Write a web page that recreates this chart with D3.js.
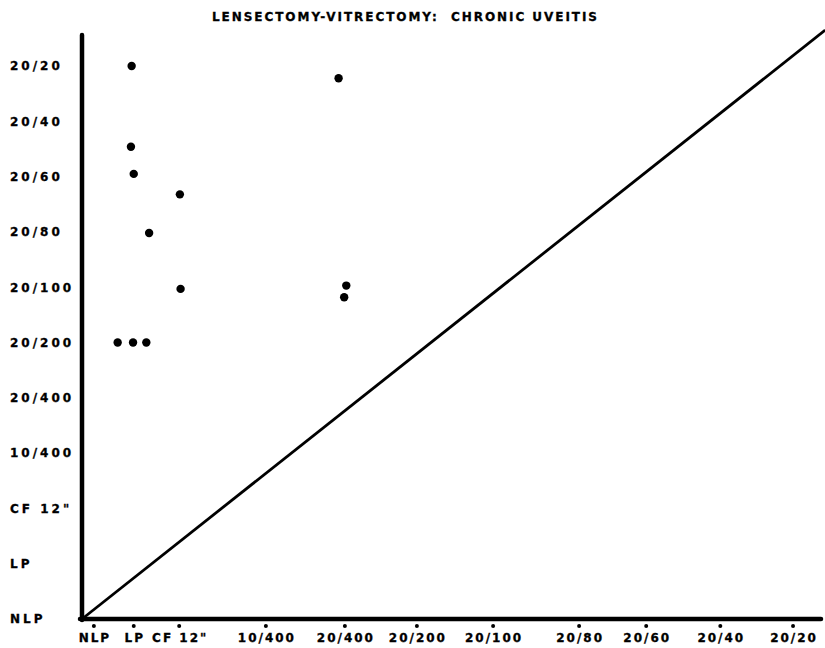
<!DOCTYPE html>
<html>
<head>
<meta charset="utf-8">
<script src="https://cdn.jsdelivr.net/npm/d3@7"></script>
<style>
  html, body { margin: 0; padding: 0; background: #fff; }
  svg { display: block; }
  text { font-family: "DejaVu Sans", Verdana, sans-serif; font-weight: bold; fill: #000; stroke: #000; stroke-width: 0.3; }
</style>
</head>
<body>
<script>
// ---- data ----
const title = "LENSECTOMY-VITRECTOMY:  CHRONIC UVEITIS";
const acuityLabels = ["NLP", "LP", "CF 12\"", "10/400", "20/400", "20/200", "20/100", "20/80", "20/60", "20/40", "20/20"];
// pre-operative (x) acuity scale positions (uneven spacing)
const xTickValues = [0, 0.57, 1.22, 2.46, 3.59, 4.62, 5.71, 6.94, 7.90, 8.96, 10];
// post-operative (y) acuity scale positions (even)
const yTickValues = [0, 1, 2, 3, 4, 5, 6, 7, 8, 9, 10];
// eyes: pre-op acuity (x), post-op acuity (y)
const preOp  = [0.54, 0.53, 0.57, 1.23, 0.79, 1.24, 0.34, 0.56, 0.75, 3.50, 3.61, 3.58];
const postOp = [10.0, 8.54, 8.05, 7.68, 6.98, 5.97, 5.00, 5.00, 5.00, 9.78, 6.03, 5.82];
// line of no change
const diagX = [-0.17, 10.46];
const diagY = [0, 10.65];

// ---- chart ----
const W = 825, H = 648;
const svg = d3.select("body").append("svg").attr("width", W).attr("height", H);

const x = d3.scaleLinear().domain([-0.17, 10.4]).range([82, 821]);
const y = d3.scaleLinear().domain([0, 10.58]).range([619, 34]);

// title
svg.append("text")
  .attr("x", 212).attr("y", 21)
  .attr("font-size", 12)
  .attr("textLength", 385).attr("lengthAdjust", "spacing")
  .style("white-space", "pre")
  .text(title);

// diagonal
const line = d3.line().x(d => x(d[0])).y(d => y(d[1]));
svg.append("path")
  .datum(diagX.map((v, i) => [v, diagY[i]]))
  .attr("d", line)
  .attr("fill", "none").attr("stroke", "#000").attr("stroke-width", 2.8);

// axes lines
svg.append("line")
  .attr("x1", x.range()[0]).attr("x2", x.range()[0])
  .attr("y1", y.range()[1] + 1).attr("y2", y.range()[0] + 1)
  .attr("stroke", "#000").attr("stroke-width", 4.5).attr("stroke-linecap", "round");
svg.append("line")
  .attr("x1", x.range()[0] - 2).attr("x2", x.range()[1])
  .attr("y1", y.range()[0]).attr("y2", y.range()[0])
  .attr("stroke", "#000").attr("stroke-width", 4.5).attr("stroke-linecap", "round");

// y labels (left aligned)
svg.append("g").selectAll("text")
  .data(yTickValues)
  .join("text")
  .attr("x", 10)
  .attr("y", d => y(d))
  .attr("dy", "0.36em")
  .attr("font-size", 12)
  .attr("letter-spacing", 3)
  .text((d, i) => acuityLabels[i]);

// x tick dots and labels
const xg = svg.append("g");
xg.selectAll("circle")
  .data(xTickValues)
  .join("circle")
  .attr("cx", d => x(d))
  .attr("cy", y.range()[0] + 7)
  .attr("r", 2)
  .attr("fill", "#000");
xg.selectAll("text")
  .data(xTickValues)
  .join("text")
  .attr("x", d => x(d) + 1)
  .attr("y", 642)
  .attr("text-anchor", "middle")
  .attr("font-size", 12)
  .attr("letter-spacing", 2)
  .text((d, i) => acuityLabels[i]);

// points
svg.append("g").selectAll("circle")
  .data(preOp.map((v, i) => [v, postOp[i]]))
  .join("circle")
  .attr("cx", d => x(d[0]))
  .attr("cy", d => y(d[1]))
  .attr("r", 4.2)
  .attr("fill", "#000");
</script>
</body>
</html>
